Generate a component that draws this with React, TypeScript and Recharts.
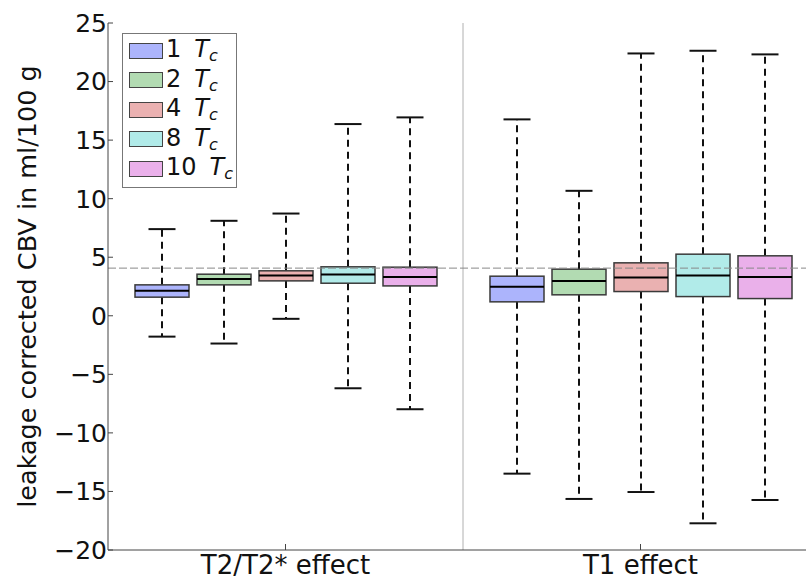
import React from 'react';
import { ComposedChart, Bar, XAxis, YAxis, ReferenceLine, Legend } from 'recharts';

const groups = ['T2/T2* effect', 'T1 effect'];
const multiples = ['1', '2', '4', '8', '10'];
const colors = ['#acb4fc', '#b2dbb2', '#eab1b1', '#b1ebe9', '#eab0ea'];

// rows: effect group, columns: 1, 2, 4, 8, 10 Tc
const lowerWhisker = [
  [-1.78, -2.37, -0.26, -6.19, -7.98],
  [-13.48, -15.64, -15.05, -17.72, -15.73],
];
const quartile1 = [
  [1.59, 2.64, 2.98, 2.78, 2.55],
  [1.19, 1.79, 2.07, 1.64, 1.47],
];
const medians = [
  [2.13, 3.13, 3.44, 3.52, 3.32],
  [2.47, 2.96, 3.26, 3.44, 3.32],
];
const quartile3 = [
  [2.64, 3.55, 3.84, 4.18, 4.15],
  [3.38, 3.98, 4.52, 5.26, 5.12],
];
const upperWhisker = [
  [7.4, 8.11, 8.73, 16.37, 16.94],
  [16.77, 10.67, 22.4, 22.63, 22.32],
];
const yTicks = [-20, -15, -10, -5, 0, 5, 10, 15, 20, 25];
const referenceLevel = 4.07;

const FONT = '"DejaVu Sans", Verdana, sans-serif';

const rows = groups.map((group, gi) => {
  const row: any = { group };
  multiples.forEach((_, si) => {
    row[`box${si}`] = [quartile1[gi][si], quartile3[gi][si]];
    row[`stat${si}`] = {
      low: lowerWhisker[gi][si],
      q1: quartile1[gi][si],
      med: medians[gi][si],
      q3: quartile3[gi][si],
      high: upperWhisker[gi][si],
    };
  });
  return row;
});

const BoxShape = (props: any) => {
  const { x, y, width, height, payload, si } = props;
  const s = payload[`stat${si}`];
  const top = Math.min(y, y + height);
  const h = Math.abs(height);
  // pixels per unit, taken from the box the bar already drew
  const k = h / (s.q3 - s.q1);
  const py = (v: number) => top + (s.q3 - v) * k;
  const cx = x + width / 2;
  const cap = width / 4;
  return (
    <g>
      <line x1={cx} x2={cx} y1={top} y2={py(s.high)} stroke="#111" strokeWidth={2} strokeDasharray="7 5" />
      <line x1={cx} x2={cx} y1={top + h} y2={py(s.low)} stroke="#111" strokeWidth={2} strokeDasharray="7 5" />
      <line x1={cx - cap} x2={cx + cap} y1={py(s.high)} y2={py(s.high)} stroke="#111" strokeWidth={2} />
      <line x1={cx - cap} x2={cx + cap} y1={py(s.low)} y2={py(s.low)} stroke="#111" strokeWidth={2} />
      <rect x={x} y={top} width={width} height={h} fill={colors[si]} stroke="#3a3a3a" strokeWidth={1.5} />
      <line x1={x} x2={x + width} y1={py(s.med)} y2={py(s.med)} stroke="#000" strokeWidth={2} />
    </g>
  );
};

const YTitle = ({ viewBox }: any) => {
  const cy = viewBox.y + viewBox.height / 2;
  return (
    <text
      x={27}
      y={cy}
      transform={`rotate(-90, 27, ${cy})`}
      textAnchor="middle"
      dominantBaseline="central"
      fontFamily={FONT}
      fontSize={25.5}
      fill="#111"
    >
      leakage corrected CBV in ml/100 g
    </text>
  );
};

const LegendBox = () => (
  <div
    style={{
      boxSizing: 'border-box',
      width: 115,
      height: 155,
      border: '1px solid #777',
      background: '#fff',
      padding: '2px 0 0 6px',
      fontFamily: FONT,
      fontSize: 24,
      color: '#111',
      lineHeight: 1,
    }}
  >
    {multiples.map((m, i) => (
      <div key={m} style={{ display: 'flex', alignItems: 'center', height: 29.5 }}>
        <span
          style={{
            boxSizing: 'border-box',
            width: 34,
            height: 16,
            background: colors[i],
            border: '1px solid #444',
            marginRight: 3,
          }}
        />
        <span style={{ whiteSpace: 'nowrap', lineHeight: '24px' }}>
          {m}
          <i style={{ paddingLeft: 13 }}>T</i>
          <sub style={{ fontSize: 16, fontStyle: 'italic', verticalAlign: -4, lineHeight: 1 }}>c</sub>
        </span>
      </div>
    ))}
  </div>
);

const fmt = (v: number) => (v < 0 ? `\u2212${Math.abs(v)}` : `${v}`);

export default function App() {
  return (
    <div
      style={{
        position: 'absolute',
        left: 0,
        top: 0,
        width: 806,
        height: 584,
        overflow: 'hidden',
        background: '#fff',
      }}
    >
      <ComposedChart
        width={830}
        height={584}
        data={rows}
        margin={{ top: 23, right: 12, left: 0, bottom: 0 }}
        barSize={54}
        barGap={8}
      >
        <XAxis
          xAxisId="cat"
          dataKey="group"
          height={34}
          tickSize={-6}
          tickMargin={12}
          stroke="#444"
          tick={{ fontFamily: FONT, fontSize: 26, fill: '#111' }}
        />
        <XAxis
          xAxisId="top"
          dataKey="group"
          orientation="top"
          height={0}
          tickSize={-6}
          stroke="#444"
          tickFormatter={() => ''}
        />
        <YAxis
          width={108}
          domain={[-20, 25]}
          ticks={yTicks}
          interval={0}
          allowDataOverflow
          tickSize={-5}
          tickMargin={6}
          stroke="#444"
          tickFormatter={fmt}
          tick={{ fontFamily: FONT, fontSize: 25, fill: '#111' }}
          label={<YTitle />}
        />
        <ReferenceLine xAxisId="cat" x="T1 effect" position="start" stroke="#b0b0b0" strokeWidth={1} />
        <ReferenceLine xAxisId="cat" y={referenceLevel} stroke="#888" strokeWidth={1} strokeDasharray="8 3" />
        {multiples.map((m, si) => (
          <Bar
            key={m}
            xAxisId="cat"
            dataKey={`box${si}`}
            name={`${m} Tc`}
            fill={colors[si]}
            isAnimationActive={false}
            shape={(p: any) => <BoxShape {...p} si={si} />}
          />
        ))}
        <Legend
          layout="vertical"
          align="center"
          verticalAlign="middle"
          wrapperStyle={{ left: 122, top: 33, width: 'auto' }}
          content={() => <LegendBox />}
        />
      </ComposedChart>
    </div>
  );
}
